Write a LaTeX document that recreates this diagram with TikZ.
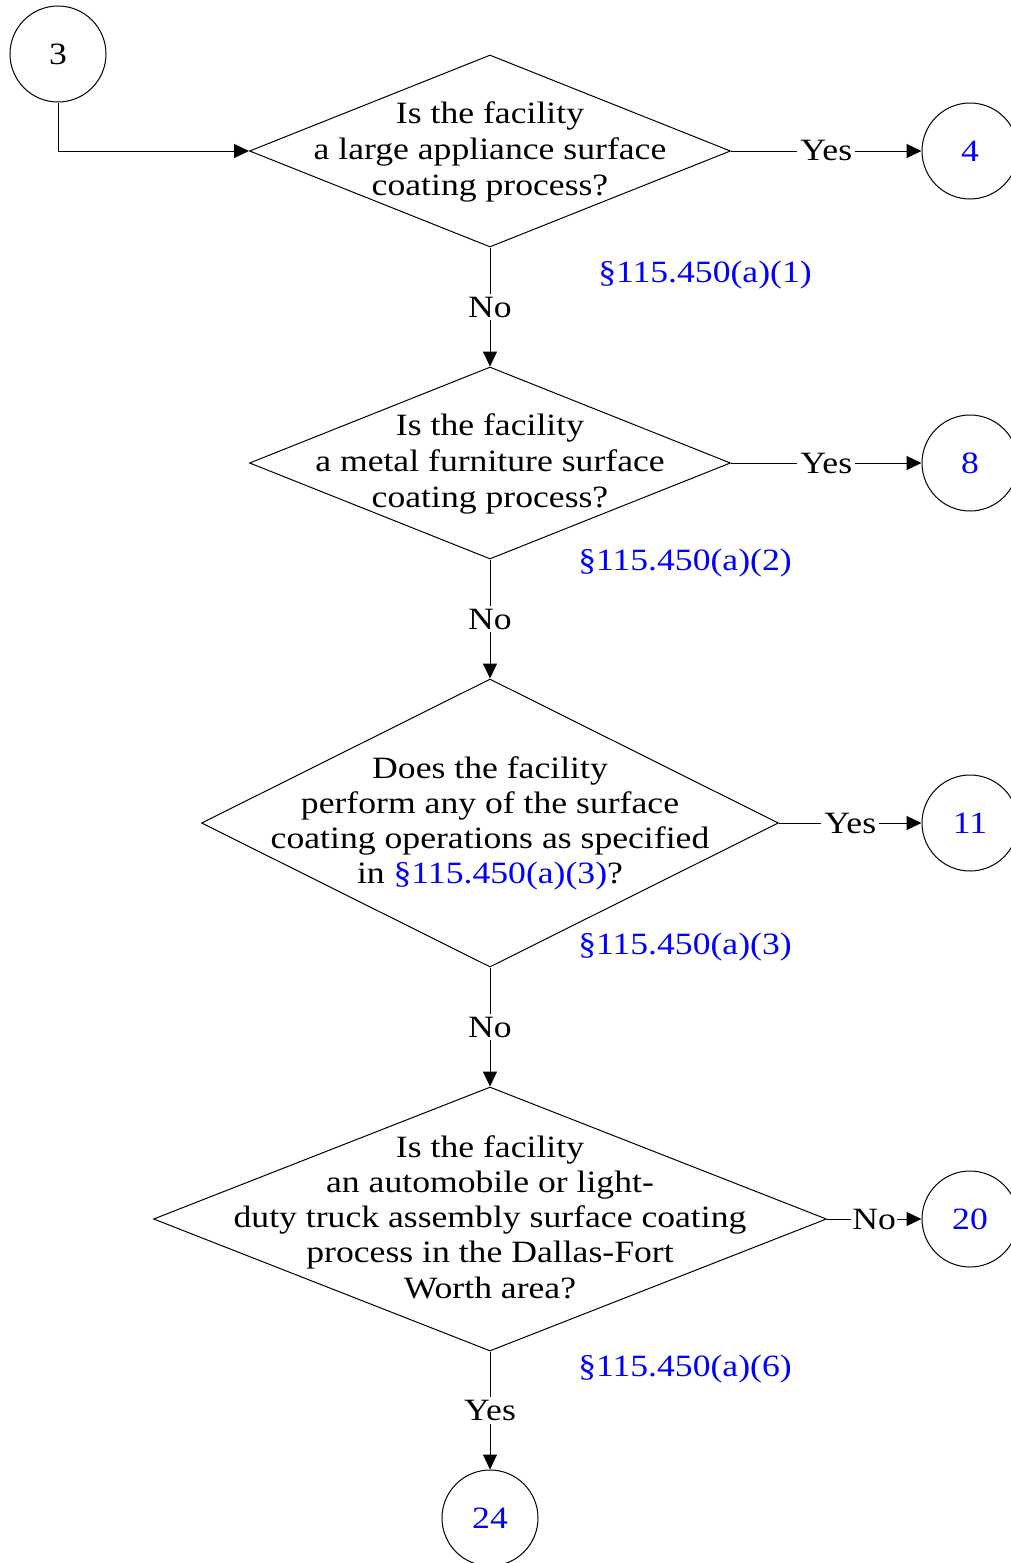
\documentclass[tikz,border=0pt]{standalone}
\usepackage{fontspec}
\setmainfont[FakeStretch=1.15]{Liberation Serif}
\usetikzlibrary{shapes.geometric, arrows.meta}

\begin{document}
\begin{tikzpicture}[x=0.5pt, y=-0.5pt,
    font=\fontsize{15.5}{18}\selectfont,
    conn/.style={draw, line width=0.5pt, -{Triangle[length=7.5pt, width=7pt]}},
    pageref/.style={circle, draw, line width=0.5pt, minimum size=48pt, inner sep=0pt, text=blue},
    decision/.style={diamond, draw, line width=0.5pt, inner sep=0pt},
    qtext/.style={align=center, inner sep=0pt},
    answer/.style={fill=white, inner sep=1.5pt},
    rule/.style={text=blue}]
\useasboundingbox (0,0) rectangle (1011,1563);

\node[pageref, text=black] (p3) at (58,54) {3};

\node[decision, minimum width=240.5pt, minimum height=96pt] (q1) at (490,151) {};
\node[qtext] (t1) at (490,152) {Is the facility\\a large appliance surface\\coating process?};
\node[pageref] (p4) at (970,151) {4};
\node[rule] (r1) at (705,275) {§115.450(a)(1)};

\node[decision, minimum width=240.5pt, minimum height=96pt] (q2) at (490,463) {};
\node[qtext] (t2) at (490,464) {Is the facility\\a metal furniture surface\\coating process?};
\node[pageref] (p8) at (970,463) {8};
\node[rule] (r2) at (685,563) {§115.450(a)(2)};

\node[decision, minimum width=288.5pt, minimum height=144pt] (q3) at (490,823) {};
\node[qtext, font=\fontsize{15.5}{17.5}\selectfont] (t3) at (490,823) {Does the facility\\perform any of the surface\\coating operations as specified\\in \textcolor{blue}{§115.450(a)(3)}?};
\node[pageref] (p11) at (970,823) {11};
\node[rule] (r3) at (685,947) {§115.450(a)(3)};

\node[decision, minimum width=336.5pt, minimum height=132pt] (q4) at (490,1219) {};
\node[qtext, font=\fontsize{15.5}{17.6}\selectfont] (t4) at (490,1217) {Is the facility\\an automobile or light-\\duty truck assembly surface coating\\process in the Dallas-Fort\\Worth area?};
\node[pageref] (p20) at (970,1219) {20};
\node[rule] (r4) at (685,1369) {§115.450(a)(6)};

\node[pageref] (p24) at (490,1518) {24};

\draw[conn] (p3.south) |- (q1.west);
\draw[conn] (q1.east) -- node[answer] {Yes} (p4);
\draw[conn] (q1.south) -- node[answer] {No} (q2.north);
\draw[conn] (q2.east) -- node[answer] {Yes} (p8);
\draw[conn] (q2.south) -- node[answer] {No} (q3.north);
\draw[conn] (q3.east) -- node[answer] {Yes} (p11);
\draw[conn] (q3.south) -- node[answer] {No} (q4.north);
\draw[conn] (q4.east) -- node[answer, inner sep=0.5pt] {No} (p20);
\draw[conn] (q4.south) -- node[answer] {Yes} (p24);

\end{tikzpicture}
\end{document}
